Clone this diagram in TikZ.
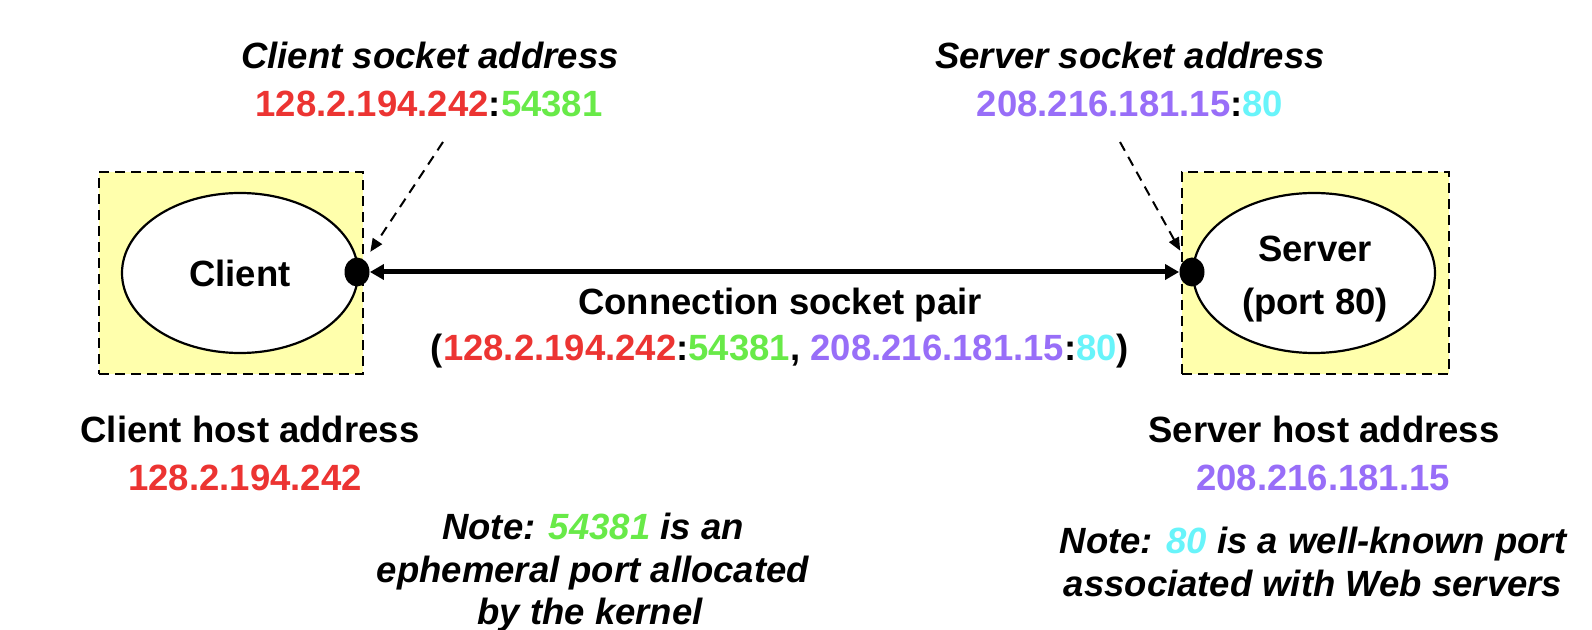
\documentclass[tikz,border=0pt]{standalone}
\usepackage{fontspec}
\setmainfont{Liberation Sans}
\usetikzlibrary{arrows.meta,shapes.geometric}
\definecolor{ipred}{RGB}{236,52,50}
\definecolor{ipgreen}{RGB}{104,234,72}
\definecolor{ippurple}{RGB}{152,110,248}
\definecolor{ipcyan}{RGB}{104,244,250}
\definecolor{hostfill}{RGB}{255,255,172}
\newcommand{\cliip}{\textcolor{ipred}{128.2.194.242}}
\newcommand{\cliport}{\textcolor{ipgreen}{54381}}
\newcommand{\srvip}{\textcolor{ippurple}{208.216.181.15}}
\newcommand{\srvport}{\textcolor{ipcyan}{80}}
\begin{document}
\begin{tikzpicture}[x=0.5pt,y=-0.5pt,
  txt/.style={font=\fontsize{18.25}{21.5}\selectfont\bfseries, anchor=base, inner sep=0pt},
  ital/.style={font=\fontsize{18.25}{21.5}\selectfont\bfseries\itshape, anchor=base, inner sep=0pt},
  hostbox/.style={draw, dash pattern=on 5pt off 3pt, line width=1.25pt, fill=hostfill, inner sep=0pt},
  proc/.style={ellipse, draw, line width=1.1pt, fill=white, inner sep=0pt},
  sockdot/.style={ellipse, fill=black, minimum width=12.5pt, minimum height=14.5pt, inner sep=0pt},
  dasharrow/.style={line width=1pt, dash pattern=on 5pt off 3.5pt, -{Triangle[length=6.5pt,width=5.5pt]}, shorten >=5pt},
  pairarrow/.style={line width=2.5pt, {Triangle[length=7pt,width=7.5pt]}-{Triangle[length=7pt,width=7.5pt]}}
  ]
\useasboundingbox (0,0) rectangle (1592,630);
\fill[white] (0,0) rectangle (1592,630);

% host boxes
\node[hostbox, minimum width=132pt, minimum height=101pt] (cbox) at (231,273) {};
\node[hostbox, minimum width=133.5pt, minimum height=101pt] (sbox) at (1315.5,273) {};

% processes
\node[proc, minimum width=118pt, minimum height=80pt, font=\fontsize{18.25}{21.5}\selectfont\bfseries] (client) at (240,273) {Client};
\node[proc, minimum width=121pt, minimum height=80pt] (server) at (1314,273) {};
\node[txt] (srvname) at (1315,262) {Server};
\node[txt] (srvportlbl) at (1315,315) {(port 80)};

% socket dots
\node[sockdot] (cdot) at (357,272) {};
\node[sockdot] (sdot) at (1192,272) {};

% connection
\draw[pairarrow] (cdot) -- (sdot);
\node[txt] (conn) at (780,315) {Connection socket pair};
\node[txt] (pair) at (780,361) {(\cliip:\cliport, \srvip:\srvport)};

% socket addresses
\node[ital] (cstitle) at (430,69) {Client socket address};
\node[txt] (csaddr) at (429,117) {\cliip:\cliport};
\node[ital] (sstitle) at (1130,69) {Server socket address};
\node[txt] (ssaddr) at (1130,117) {\srvip:\srvport};
\coordinate (csfrom) at (443,142);
\coordinate (ssfrom) at (1120,142);
\draw[dasharrow] (csfrom) -- (cdot);
\draw[dasharrow] (ssfrom) -- (sdot);

% host addresses
\node[txt] (chtitle) at (250,443) {Client host address};
\node[txt] (chaddr) at (245,491) {\cliip};
\node[txt] (shtitle) at (1324,443) {Server host address};
\node[txt] (shaddr) at (1323,491) {\srvip};

% notes
\node[ital] (cnote1) at (593,540) {Note: \cliport{} is an};
\node[ital] (cnote2) at (593,583) {ephemeral port allocated};
\node[ital] (cnote3) at (590,625) {by the kernel};
\node[ital] (snote1) at (1313,554) {Note: \srvport{} is a well-known port};
\node[ital] (snote2) at (1313,597) {associated with Web servers};
\end{tikzpicture}
\end{document}
